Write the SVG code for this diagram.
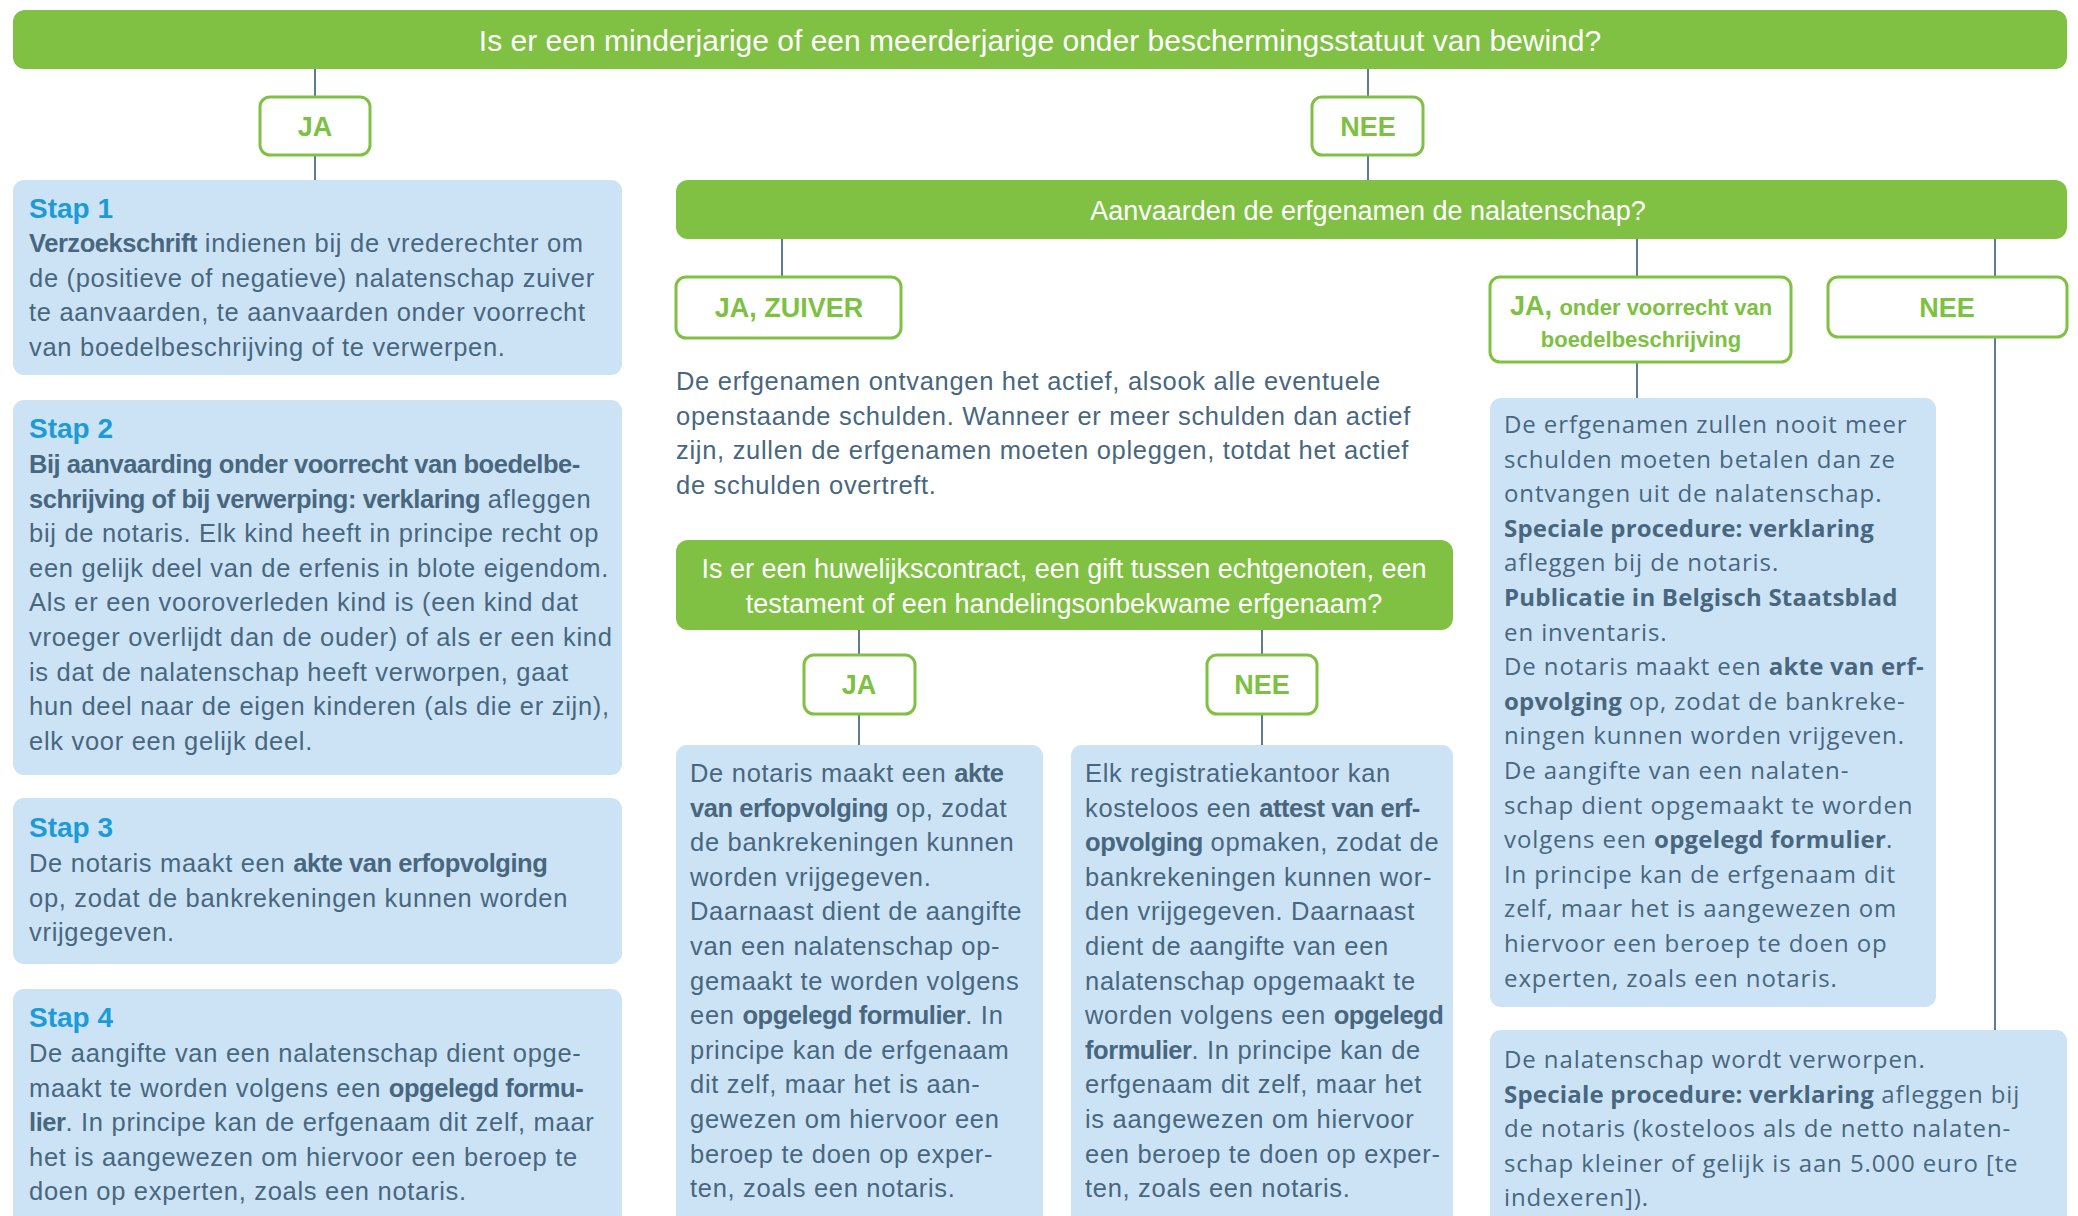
<svg xmlns="http://www.w3.org/2000/svg" width="2078" height="1216" viewBox="0 0 2078 1216">
<style>
.bar{fill:#80c143}
.opt{fill:#fff;stroke:#80c143;stroke-width:3}
.box{fill:#cce3f5}
.conn line{stroke:#5f7b92;stroke-width:2}
.t{font-family:"Liberation Sans",Arial,sans-serif;font-size:25.5px;letter-spacing:0.7px;fill:#48677f}
.r{font-family:"Open Sans","Liberation Sans",Arial,sans-serif;font-size:24px;letter-spacing:0.9px;fill:#48677f}
.b{font-weight:bold}
.t .b{letter-spacing:-0.45px}
.r .b{letter-spacing:0.2px}
.h{font-family:"Liberation Sans",Arial,sans-serif;font-size:28px;font-weight:bold;fill:#1b9bd8}
.q{font-family:"Liberation Sans",Arial,sans-serif;font-size:27px;fill:#fff;text-anchor:middle}
.q1{font-size:30px}
.o{font-family:"Liberation Sans",Arial,sans-serif;font-size:27px;font-weight:bold;fill:#7dc142;text-anchor:middle}
.os{font-size:22px}
</style>
<rect width="2078" height="1216" fill="#fff"/>
<g id="connectors" class="conn">
<line x1="315" y1="69" x2="315" y2="97"/>
<line x1="315" y1="155" x2="315" y2="180"/>
<line x1="1368" y1="69" x2="1368" y2="97"/>
<line x1="1368" y1="155" x2="1368" y2="180"/>
<line x1="782" y1="239" x2="782" y2="277"/>
<line x1="1637" y1="239" x2="1637" y2="277"/>
<line x1="1637" y1="362" x2="1637" y2="398"/>
<line x1="1995" y1="239" x2="1995" y2="277"/>
<line x1="1995" y1="337" x2="1995" y2="1030"/>
<line x1="859" y1="630" x2="859" y2="655"/>
<line x1="859" y1="714" x2="859" y2="745"/>
<line x1="1262" y1="630" x2="1262" y2="655"/>
<line x1="1262" y1="714" x2="1262" y2="745"/>
</g>
<g id="q1">
<rect class="bar" x="13" y="10" width="2054" height="59" rx="12"/>
<text class="q q1" x="1040" y="51">Is er een minderjarige of een meerderjarige onder beschermingsstatuut van bewind?</text>
</g>
<g id="ja1">
<rect class="opt" x="260" y="97" width="110" height="58" rx="10"/>
<text class="o" x="315" y="136">JA</text>
</g>
<g id="nee1">
<rect class="opt" x="1312" y="97" width="111" height="58" rx="10"/>
<text class="o" x="1368" y="136">NEE</text>
</g>
<g id="stap1">
<rect class="box" x="13" y="180" width="609" height="195" rx="11"/>
<text class="h" x="29" y="218">Stap 1</text>
<text class="t"><tspan x="29" y="252"><tspan class="b">Verzoekschrift</tspan> indienen bij de vrederechter om</tspan><tspan x="29" y="286.6">de (positieve of negatieve) nalatenschap zuiver</tspan><tspan x="29" y="321.2">te aanvaarden, te aanvaarden onder voorrecht</tspan><tspan x="29" y="355.8">van boedelbeschrijving of te verwerpen.</tspan></text>
</g>
<g id="stap2">
<rect class="box" x="13" y="400" width="609" height="375" rx="11"/>
<text class="h" x="29" y="438">Stap 2</text>
<text class="t"><tspan x="29" y="473" class="b">Bij aanvaarding onder voorrecht van boedelbe-</tspan><tspan x="29" y="507.6"><tspan class="b">schrijving of bij verwerping: verklaring</tspan> afleggen</tspan><tspan x="29" y="542.2">bij de notaris. Elk kind heeft in principe recht op</tspan><tspan x="29" y="576.8">een gelijk deel van de erfenis in blote eigendom.</tspan><tspan x="29" y="611.4">Als er een vooroverleden kind is (een kind dat</tspan><tspan x="29" y="646">vroeger overlijdt dan de ouder) of als er een kind</tspan><tspan x="29" y="680.6">is dat de nalatenschap heeft verworpen, gaat</tspan><tspan x="29" y="715.2">hun deel naar de eigen kinderen (als die er zijn),</tspan><tspan x="29" y="749.8">elk voor een gelijk deel.</tspan></text>
</g>
<g id="stap3">
<rect class="box" x="13" y="798" width="609" height="166" rx="11"/>
<text class="h" x="29" y="837">Stap 3</text>
<text class="t"><tspan x="29" y="872">De notaris maakt een <tspan class="b">akte van erfopvolging</tspan></tspan><tspan x="29" y="906.6">op, zodat de bankrekeningen kunnen worden</tspan><tspan x="29" y="941.2">vrijgegeven.</tspan></text>
</g>
<g id="stap4">
<rect class="box" x="13" y="989" width="609" height="250" rx="11"/>
<text class="h" x="29" y="1027">Stap 4</text>
<text class="t"><tspan x="29" y="1062">De aangifte van een nalatenschap dient opge-</tspan><tspan x="29" y="1096.6">maakt te worden volgens een <tspan class="b">opgelegd formu-</tspan></tspan><tspan x="29" y="1131.2"><tspan class="b">lier</tspan>. In principe kan de erfgenaam dit zelf, maar</tspan><tspan x="29" y="1165.8">het is aangewezen om hiervoor een beroep te</tspan><tspan x="29" y="1200.4">doen op experten, zoals een notaris.</tspan></text>
</g>
<g id="q2">
<rect class="bar" x="676" y="180" width="1391" height="59" rx="12"/>
<text class="q" x="1368" y="220">Aanvaarden de erfgenamen de nalatenschap?</text>
</g>
<g id="jazuiver">
<rect class="opt" x="676" y="277" width="225" height="61" rx="10"/>
<text class="o" x="789" y="317">JA, ZUIVER</text>
</g>
<g id="zuiver-text">
<text class="t"><tspan x="676" y="390">De erfgenamen ontvangen het actief, alsook alle eventuele</tspan><tspan x="676" y="424.6">openstaande schulden. Wanneer er meer schulden dan actief</tspan><tspan x="676" y="459.2">zijn, zullen de erfgenamen moeten opleggen, totdat het actief</tspan><tspan x="676" y="493.8">de schulden overtreft.</tspan></text>
</g>
<g id="q3">
<rect class="bar" x="676" y="540" width="777" height="90" rx="12"/>
<text class="q"><tspan x="1064" y="578">Is er een huwelijkscontract, een gift tussen echtgenoten, een</tspan><tspan x="1064" y="613">testament of een handelingsonbekwame erfgenaam?</tspan></text>
</g>
<g id="ja3">
<rect class="opt" x="804" y="655" width="111" height="59" rx="10"/>
<text class="o" x="859" y="694">JA</text>
</g>
<g id="nee3">
<rect class="opt" x="1207" y="655" width="110" height="59" rx="10"/>
<text class="o" x="1262" y="694">NEE</text>
</g>
<g id="ja3-box">
<rect class="box" x="676" y="745" width="367" height="500" rx="11"/>
<text class="t"><tspan x="690" y="782">De notaris maakt een <tspan class="b">akte</tspan></tspan><tspan x="690" y="816.6"><tspan class="b">van erfopvolging</tspan> op, zodat</tspan><tspan x="690" y="851.2">de bankrekeningen kunnen</tspan><tspan x="690" y="885.8">worden vrijgegeven.</tspan><tspan x="690" y="920.4">Daarnaast dient de aangifte</tspan><tspan x="690" y="955">van een nalatenschap op-</tspan><tspan x="690" y="989.6">gemaakt te worden volgens</tspan><tspan x="690" y="1024.2">een <tspan class="b">opgelegd formulier</tspan>. In</tspan><tspan x="690" y="1058.8">principe kan de erfgenaam</tspan><tspan x="690" y="1093.4">dit zelf, maar het is aan-</tspan><tspan x="690" y="1128">gewezen om hiervoor een</tspan><tspan x="690" y="1162.6">beroep te doen op exper-</tspan><tspan x="690" y="1197.2">ten, zoals een notaris.</tspan></text>
</g>
<g id="nee3-box">
<rect class="box" x="1071" y="745" width="382" height="500" rx="11"/>
<text class="t"><tspan x="1085" y="782">Elk registratiekantoor kan</tspan><tspan x="1085" y="816.6">kosteloos een <tspan class="b">attest van erf-</tspan></tspan><tspan x="1085" y="851.2"><tspan class="b">opvolging</tspan> opmaken, zodat de</tspan><tspan x="1085" y="885.8">bankrekeningen kunnen wor-</tspan><tspan x="1085" y="920.4">den vrijgegeven. Daarnaast</tspan><tspan x="1085" y="955">dient de aangifte van een</tspan><tspan x="1085" y="989.6">nalatenschap opgemaakt te</tspan><tspan x="1085" y="1024.2">worden volgens een <tspan class="b">opgelegd</tspan></tspan><tspan x="1085" y="1058.8"><tspan class="b">formulier</tspan>. In principe kan de</tspan><tspan x="1085" y="1093.4">erfgenaam dit zelf, maar het</tspan><tspan x="1085" y="1128">is aangewezen om hiervoor</tspan><tspan x="1085" y="1162.6">een beroep te doen op exper-</tspan><tspan x="1085" y="1197.2">ten, zoals een notaris.</tspan></text>
</g>
<g id="jaboedel">
<rect class="opt" x="1490" y="277" width="301" height="85" rx="10"/>
<text class="o"><tspan x="1641" y="315">JA, <tspan class="os">onder voorrecht van</tspan></tspan><tspan x="1641" y="347" class="os">boedelbeschrijving</tspan></text>
</g>
<g id="nee2">
<rect class="opt" x="1828" y="277" width="239" height="60" rx="10"/>
<text class="o" x="1947" y="317">NEE</text>
</g>
<g id="jaboedel-box">
<rect class="box" x="1490" y="398" width="446" height="609" rx="11"/>
<text class="r"><tspan x="1504" y="433">De erfgenamen zullen nooit meer</tspan><tspan x="1504" y="467.6">schulden moeten betalen dan ze</tspan><tspan x="1504" y="502.2">ontvangen uit de nalatenschap.</tspan><tspan x="1504" y="536.8" class="b">Speciale procedure: verklaring</tspan><tspan x="1504" y="571.4">afleggen bij de notaris.</tspan><tspan x="1504" y="606" class="b">Publicatie in Belgisch Staatsblad</tspan><tspan x="1504" y="640.6">en inventaris.</tspan><tspan x="1504" y="675.2">De notaris maakt een <tspan class="b">akte van erf-</tspan></tspan><tspan x="1504" y="709.8"><tspan class="b">opvolging</tspan> op, zodat de bankreke-</tspan><tspan x="1504" y="744.4">ningen kunnen worden vrijgeven.</tspan><tspan x="1504" y="779">De aangifte van een nalaten-</tspan><tspan x="1504" y="813.6">schap dient opgemaakt te worden</tspan><tspan x="1504" y="848.2">volgens een <tspan class="b">opgelegd formulier</tspan>.</tspan><tspan x="1504" y="882.8">In principe kan de erfgenaam dit</tspan><tspan x="1504" y="917.4">zelf, maar het is aangewezen om</tspan><tspan x="1504" y="952">hiervoor een beroep te doen op</tspan><tspan x="1504" y="986.6">experten, zoals een notaris.</tspan></text>
</g>
<g id="nee2-box">
<rect class="box" x="1490" y="1030" width="577" height="220" rx="11"/>
<text class="r"><tspan x="1504" y="1068">De nalatenschap wordt verworpen.</tspan><tspan x="1504" y="1102.6"><tspan class="b">Speciale procedure: verklaring</tspan> afleggen bij</tspan><tspan x="1504" y="1137.2">de notaris (kosteloos als de netto nalaten-</tspan><tspan x="1504" y="1171.8">schap kleiner of gelijk is aan 5.000 euro [te</tspan><tspan x="1504" y="1206.4">indexeren]).</tspan></text>
</g>
</svg>
